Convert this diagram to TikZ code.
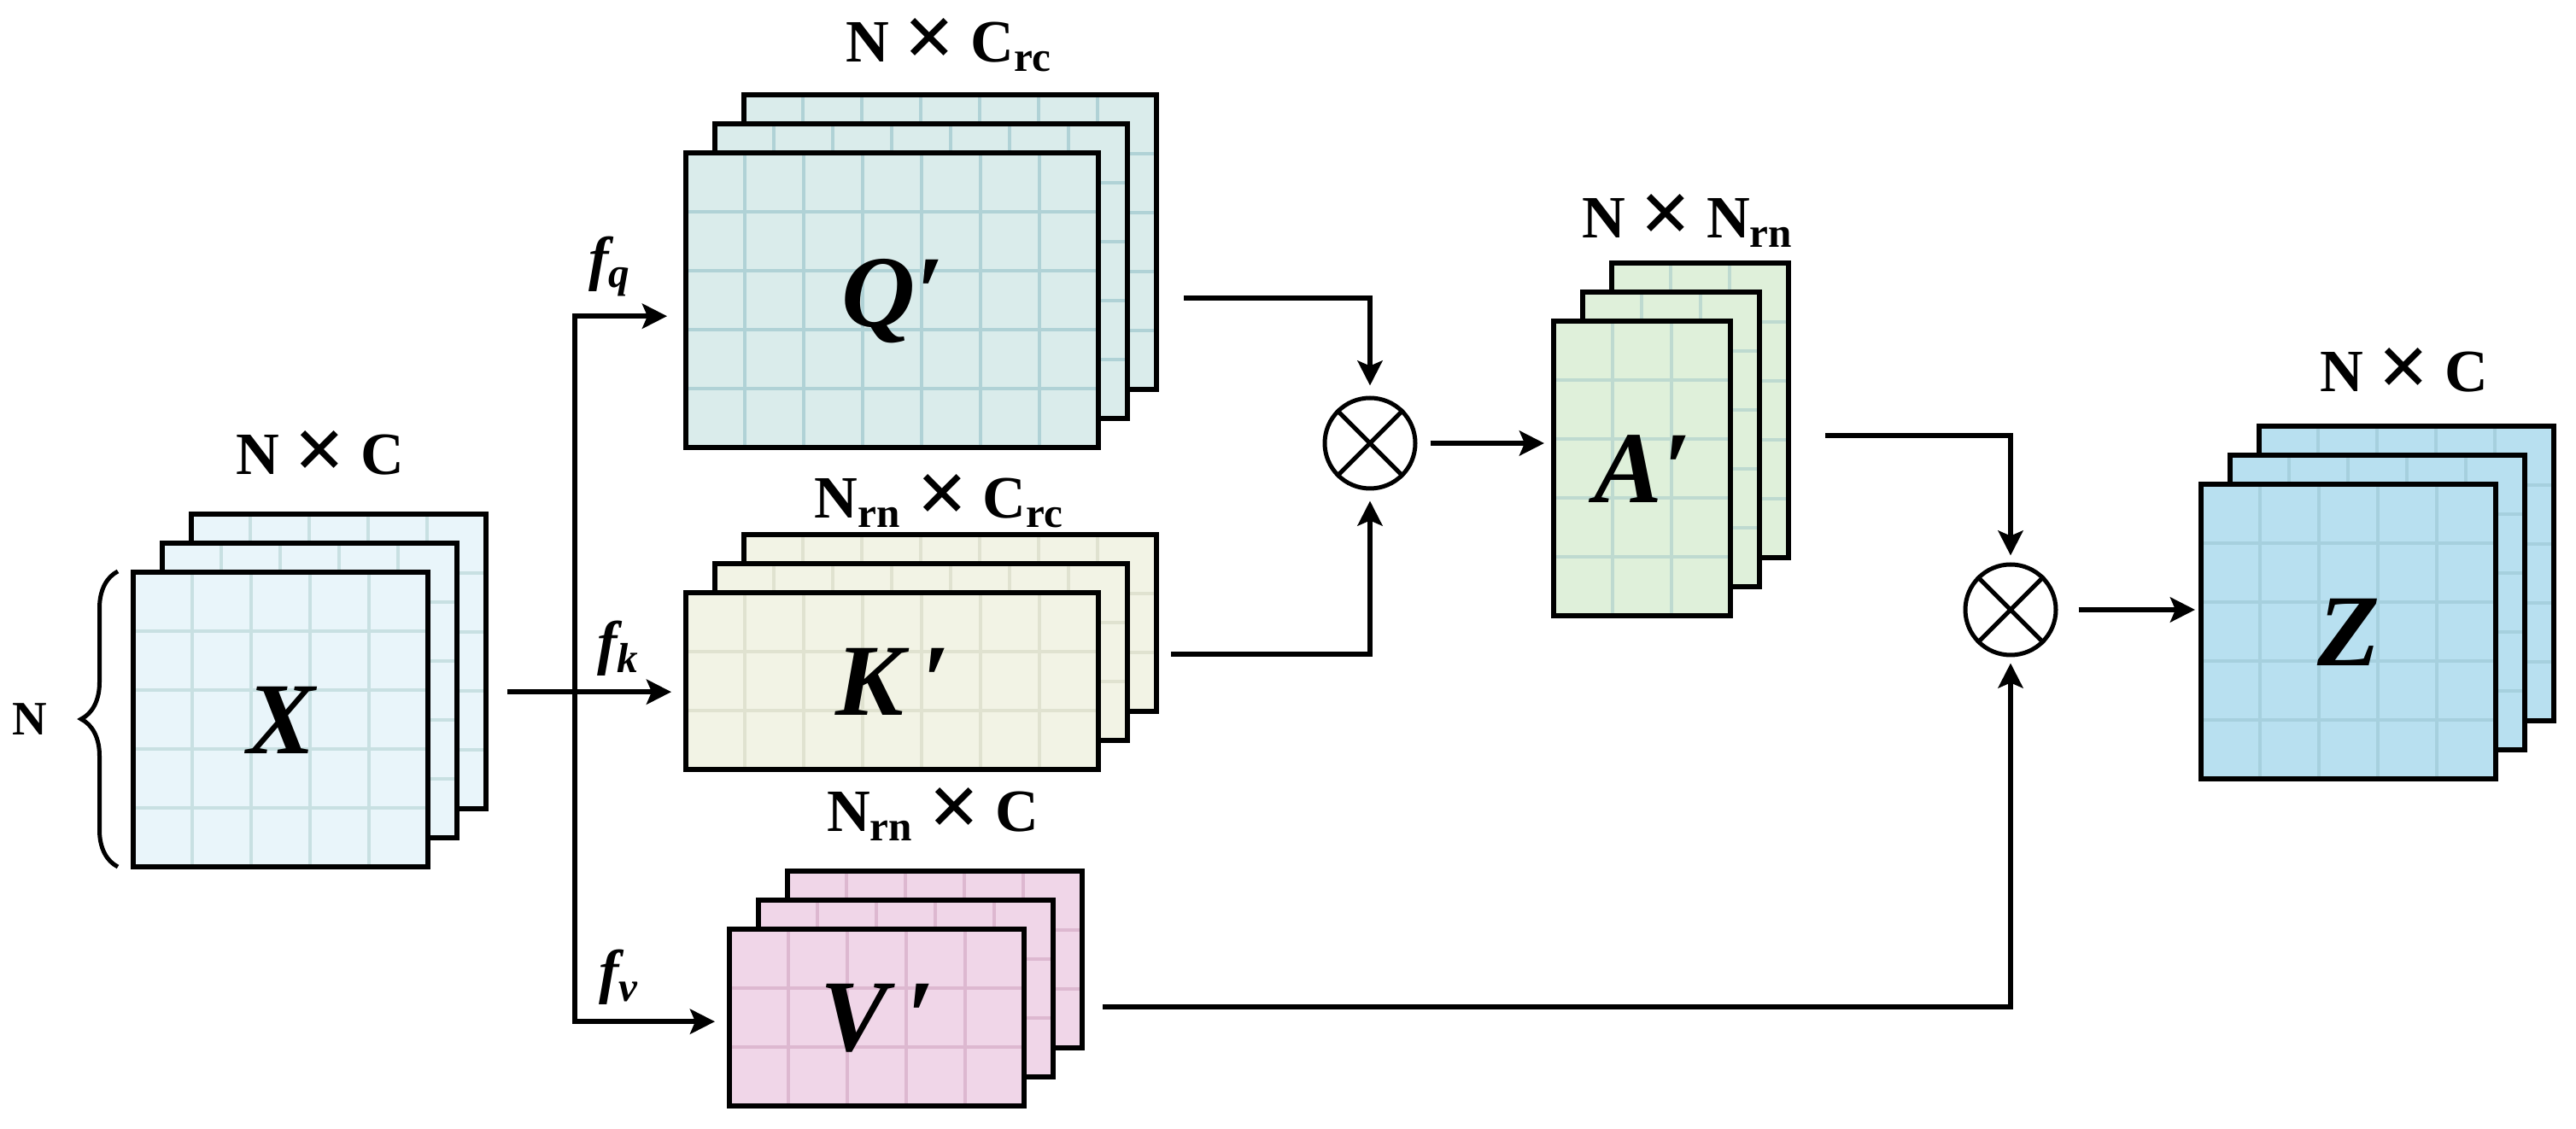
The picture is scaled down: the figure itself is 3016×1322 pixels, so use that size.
\documentclass[tikz,border=0pt]{standalone}
\usepackage{fontspec}
\setmainfont{Liberation Serif}
\usepackage{graphicx}
\usetikzlibrary{arrows.meta,calc,decorations.pathreplacing}

% colours of the feature maps
\definecolor{xfill}{HTML}{E9F5FA}\definecolor{xgrid}{HTML}{C8E0E2}
\definecolor{qfill}{HTML}{DAECEB}\definecolor{qgrid}{HTML}{B0D2D6}
\definecolor{kfill}{HTML}{F2F3E5}\definecolor{kgrid}{HTML}{E0E2D0}
\definecolor{vfill}{HTML}{F0D6E8}\definecolor{vgrid}{HTML}{DDB8D0}
\definecolor{afill}{HTML}{DFF0DA}\definecolor{agrid}{HTML}{BEDAD0}
\definecolor{zfill}{HTML}{B8E0F0}\definecolor{zgrid}{HTML}{A6D0DE}

\newcommand{\mul}{\raisebox{-0.08em}{\scalebox{1.5}{×}}}

% a stack of three maps: name, x, y (top left of front map), columns, rows, fill, grid, letter
\newcommand{\featmap}[8]{
	\pgfmathtruncatemacro{\nc}{#4-1}
	\pgfmathtruncatemacro{\nr}{#5-1}
	\foreach \s in {68,34,0} {
		\fill[#6] (#2+\s,#3-\s) rectangle ++(#4*69,#5*69);
		\foreach \i in {1,...,\nc} \draw[gridline, #7] (#2+\s+\i*69,#3-\s) -- ++(0,#5*69);
		\foreach \j in {1,...,\nr} \draw[gridline, #7] (#2+\s,#3-\s+\j*69) -- ++(#4*69,0);
		\draw[mapborder] (#2+\s,#3-\s) rectangle ++(#4*69,#5*69);
	}
	\node[anchor=north west, inner sep=0, minimum width=#4*6.9mm, minimum height=#5*6.9mm] (#1) at (#2,#3) {};
	\node[maplabel] (#1lab) at (#1.center) {#8};
}

\begin{document}
\begin{tikzpicture}[x=0.1mm, y=-0.1mm,
	gridline/.style={line width=0.4mm},
	mapborder/.style={draw=black, line width=0.55mm},
	maplabel/.style={font=\fontsize{34}{34}\selectfont\bfseries\itshape, inner sep=0},
	dimlab/.style={font=\fontsize{20}{24}\selectfont\bfseries, anchor=base, inner sep=0},
	flab/.style={font=\fontsize{20}{20}\selectfont\bfseries\itshape, inner sep=0},
	arr/.style={line width=0.6mm, -{Stealth[length=2.9mm, width=2.9mm, inset=0.6mm]}},
	mult/.style={circle, draw, line width=0.5mm, minimum size=10.6mm, inner sep=0}]
	\useasboundingbox (0,0) rectangle (3016,1322);

	% feature maps
	\featmap{X}{156}{670}{5}{5}{xfill}{xgrid}{X}
	\featmap{Q}{803}{179}{7}{5}{qfill}{qgrid}{Q′}
	\featmap{K}{803}{694}{7}{3}{kfill}{kgrid}{K\,′}
	\featmap{V}{854}{1088}{5}{3}{vfill}{vgrid}{V\,′}
	\featmap{A}{1819}{376}{3}{5}{afill}{agrid}{A′}
	\featmap{Z}{2577}{567}{5}{5}{zfill}{zgrid}{Z}

	% sizes
	\node[dimlab] (xdim) at (375,556) {N \mul{} C};
	\node[dimlab] (qdim) at (1111,73) {N \mul{} C\textsubscript{rc}};
	\node[dimlab] (kdim) at (1100,607) {N\textsubscript{rn} \mul{} C\textsubscript{rc}};
	\node[dimlab] (vdim) at (1092,974) {N\textsubscript{rn} \mul{} C};
	\node[dimlab] (adim) at (1976,279) {N \mul{} N\textsubscript{rn}};
	\node[dimlab] (zdim) at (2815,459) {N \mul{} C};

	\draw[decorate, decoration={brace, amplitude=4.3mm}, line width=0.5mm] (138,1015) -- (138,669);
	\node[font=\fontsize{16}{16}\selectfont\bfseries] (nlab) at (35,842) {N};

	% projections
	\coordinate (xout) at ($(X.east)+(92,-33)$);
	\coordinate (split) at ($(xout)+(79,0)$);
	\draw[arr, shorten >=1.7mm] (xout) -- (xout -| K.west);
	\draw[arr, shorten >=2.2mm] (split) |- ($(Q.west)+(0,18)$);
	\draw[arr, shorten >=1.7mm] (split) |- ($(V.west)+(0,4)$);
	\node[flab] (fq) at (714,312) {f\textsubscript{q}};
	\node[flab] (fk) at (724,759) {f\textsubscript{k}};
	\node[flab] (fv) at (725,1144) {f\textsubscript{v}};

	% products
	\node[mult] (c1) at (1604,519) {};
	\draw[line width=0.5mm] (c1.45) -- (c1.225) (c1.135) -- (c1.315);
	\node[mult] (c2) at (2354,714) {};
	\draw[line width=0.5mm] (c2.45) -- (c2.225) (c2.135) -- (c2.315);

	\draw[arr, shorten >=1.2mm] ($(Q.east)+(99,-3)$) -| (c1.north);
	\draw[arr, shorten >=1.2mm] ($(K.east)+(84,-32)$) -| (c1.south);
	\draw[arr, shorten <=1.5mm, shorten >=1.1mm] (c1.east) -- (c1.east -| A.west);
	\draw[arr, shorten >=0.8mm] ($(A.east)+(110,-39)$) -| (c2.north);
	\draw[arr, shorten >=0.7mm] ($(V.east)+(91,-13)$) -| (c2.south);
	\draw[arr, shorten <=2.4mm, shorten >=0.7mm] (c2.east) -- (c2.east -| Z.west);
\end{tikzpicture}
\end{document}
